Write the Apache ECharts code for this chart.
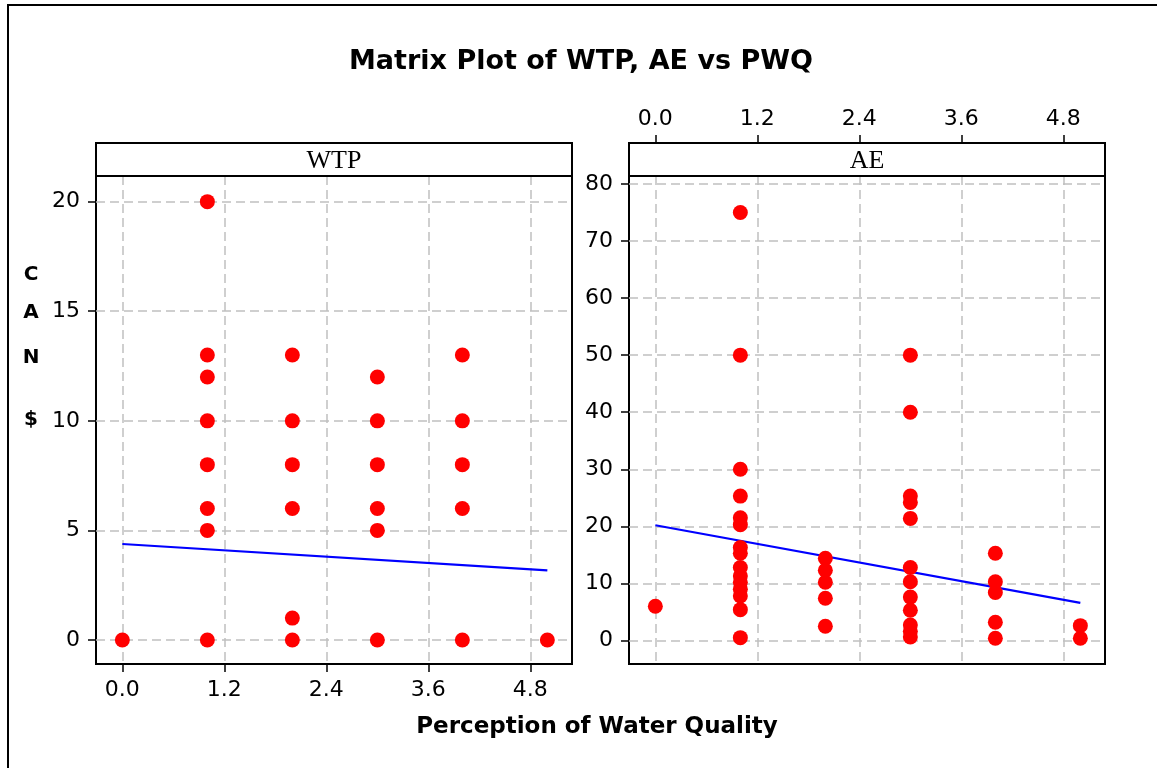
<!DOCTYPE html>
<html><head><meta charset="utf-8">
<script src="https://cdn.jsdelivr.net/npm/echarts@6/dist/echarts.min.js"></script>
<style>html,body{margin:0;padding:0;background:#fff}#c{width:1157px;height:768px}</style>
</head><body><div id="c"></div>
<script>
// ---- data ----
const chartTitle = 'Matrix Plot of WTP, AE vs PWQ';
const xAxisName = 'Perception of Water Quality';
const yAxisLetters = ['C', 'A', 'N', '$'];
const panelNames = ['WTP', 'AE'];
const xTickValues = [0, 1.2, 2.4, 3.6, 4.8];
const wtpTickValues = [0, 5, 10, 15, 20];
const aeTickValues = [0, 10, 20, 30, 40, 50, 60, 70, 80];

const wtpPWQ    = [0, 1, 1, 1, 1, 1, 1, 1, 1, 2, 2, 2, 2, 2, 2, 3, 3, 3, 3, 3, 3, 4, 4, 4, 4, 4, 5];
const wtpValues = [0, 20, 13, 12, 10, 8, 6, 5, 0, 13, 10, 8, 6, 1, 0, 12, 10, 8, 6, 5, 0, 13, 10, 8, 6, 0, 0];

const aePWQ    = [0,
  1, 1, 1, 1, 1, 1, 1, 1, 1, 1, 1, 1, 1, 1, 1,
  2, 2, 2, 2, 2,
  3, 3, 3, 3, 3, 3, 3, 3, 3, 3, 3, 3,
  4, 4, 4, 4, 4,
  5, 5];
const aeValues = [6,
  75, 50, 30, 25.3, 21.5, 20.3, 16.3, 15.3, 12.8, 11.3, 10.2, 9, 7.8, 5.4, 0.5,
  14.4, 12.3, 10.2, 7.4, 2.5,
  50, 40, 25.3, 24.2, 21.4, 12.8, 10.3, 7.6, 5.3, 2.7, 1.6, 0.6,
  15.3, 10.3, 8.4, 3.2, 0.4,
  2.6, 0.4];

const wtpFitX = [0, 5];
const wtpFitY = [4.38, 3.18];
const aeFitX = [0, 5];
const aeFitY = [20.2, 6.6];

// ---- chart ----
const chart = echarts.init(document.getElementById('c'), null, {renderer: 'canvas'});
const numFont = 'DejaVu Sans';
const gridLine = {show: true, lineStyle: {color: '#c0c0c0', type: [9, 5], width: 1.5}};
const noLine = {show: false, onZero: false};
const tick = (vals) => ({show: true, inside: false, customValues: vals, length: 8, lineStyle: {color: '#000', width: 1.5}});
const label = (vals, fmt, margin) => ({show: true, inside: false, customValues: vals, formatter: fmt, fontFamily: numFont, fontSize: 22, color: '#000', margin: margin});
const fmt1 = v => Number(v).toFixed(1);
const fmt0 = v => String(Math.round(v));

const gridCommon = {top: 176, width: 476, height: 488, show: true, borderColor: '#000', borderWidth: 2, backgroundColor: 'rgba(0,0,0,0)', containLabel: false};

const option = {
  animation: false,
  backgroundColor: '#fff',
  grid: [
    Object.assign({left: 96}, gridCommon),
    Object.assign({left: 629}, gridCommon)
  ],
  xAxis: [
    {gridIndex: 0, type: 'value', min: -0.31, max: 5.29, position: 'bottom',
     axisLine: noLine, axisTick: tick(xTickValues), axisLabel: label(xTickValues, fmt1, 15), splitLine: gridLine},
    {gridIndex: 1, type: 'value', min: -0.31, max: 5.29, position: 'top', offset: 33,
     axisLine: noLine, axisTick: tick(xTickValues), axisLabel: label(xTickValues, fmt1, 13), splitLine: gridLine}
  ],
  yAxis: [
    {gridIndex: 0, type: 'value', min: -1.095, max: 21.17, position: 'left',
     axisLine: noLine, axisTick: tick(wtpTickValues), axisLabel: label(wtpTickValues, fmt0, 16), splitLine: gridLine},
    {gridIndex: 1, type: 'value', min: -4.12, max: 81.4, position: 'left',
     axisLine: noLine, axisTick: tick(aeTickValues), axisLabel: label(aeTickValues, fmt0, 16), splitLine: gridLine}
  ],
  series: [
    {type: 'line', xAxisIndex: 0, yAxisIndex: 0, data: wtpFitX.map((x, i) => [x, wtpFitY[i]]),
     showSymbol: false, symbol: 'none', lineStyle: {color: '#0000ff', width: 2.2}, z: 2, silent: true},
    {type: 'line', xAxisIndex: 1, yAxisIndex: 1, data: aeFitX.map((x, i) => [x, aeFitY[i]]),
     showSymbol: false, symbol: 'none', lineStyle: {color: '#0000ff', width: 2.2}, z: 2, silent: true},
    {type: 'scatter', xAxisIndex: 0, yAxisIndex: 0, data: wtpPWQ.map((x, i) => [x, wtpValues[i]]),
     symbol: 'circle', symbolSize: 15, itemStyle: {color: '#ff0000', opacity: 1}, z: 3},
    {type: 'scatter', xAxisIndex: 1, yAxisIndex: 1, data: aePWQ.map((x, i) => [x, aeValues[i]]),
     symbol: 'circle', symbolSize: 15, itemStyle: {color: '#ff0000', opacity: 1}, z: 3}
  ],
  graphic: [
    {type: 'rect', shape: {x: 8, y: 5, width: 1170, height: 790}, style: {fill: 'none', stroke: '#000', lineWidth: 2}, z: 0},
    {type: 'rect', shape: {x: 96, y: 143, width: 476, height: 33}, style: {fill: '#fff', stroke: '#000', lineWidth: 2}, z: 10},
    {type: 'rect', shape: {x: 629, y: 143, width: 476, height: 33}, style: {fill: '#fff', stroke: '#000', lineWidth: 2}, z: 10},
    {type: 'text', x: 334, y: 161, style: {text: panelNames[0], fontFamily: 'Liberation Serif', fontSize: 26, fill: '#000', textAlign: 'center', textVerticalAlign: 'middle'}, z: 11},
    {type: 'text', x: 867, y: 161, style: {text: panelNames[1], fontFamily: 'Liberation Serif', fontSize: 26, fill: '#000', textAlign: 'center', textVerticalAlign: 'middle'}, z: 11},
    {type: 'text', x: 581, y: 62, style: {text: chartTitle, fontFamily: 'DejaVu Sans', fontWeight: 'bold', fontSize: 27, fill: '#000', textAlign: 'center', textVerticalAlign: 'middle'}, z: 11},
    {type: 'text', x: 597, y: 727, style: {text: xAxisName, fontFamily: 'DejaVu Sans', fontWeight: 'bold', fontSize: 23, fill: '#000', textAlign: 'center', textVerticalAlign: 'middle'}, z: 11},
    {type: 'text', x: 31, y: 275, style: {text: yAxisLetters[0], fontFamily: 'DejaVu Sans', fontWeight: 'bold', fontSize: 20, fill: '#000', textAlign: 'center', textVerticalAlign: 'middle'}, z: 11},
    {type: 'text', x: 31, y: 313, style: {text: yAxisLetters[1], fontFamily: 'DejaVu Sans', fontWeight: 'bold', fontSize: 20, fill: '#000', textAlign: 'center', textVerticalAlign: 'middle'}, z: 11},
    {type: 'text', x: 31, y: 358, style: {text: yAxisLetters[2], fontFamily: 'DejaVu Sans', fontWeight: 'bold', fontSize: 20, fill: '#000', textAlign: 'center', textVerticalAlign: 'middle'}, z: 11},
    {type: 'text', x: 31, y: 420, style: {text: yAxisLetters[3], fontFamily: 'DejaVu Sans', fontWeight: 'bold', fontSize: 20, fill: '#000', textAlign: 'center', textVerticalAlign: 'middle'}, z: 11}
  ]
};
chart.setOption(option);
</script>
</body></html>
